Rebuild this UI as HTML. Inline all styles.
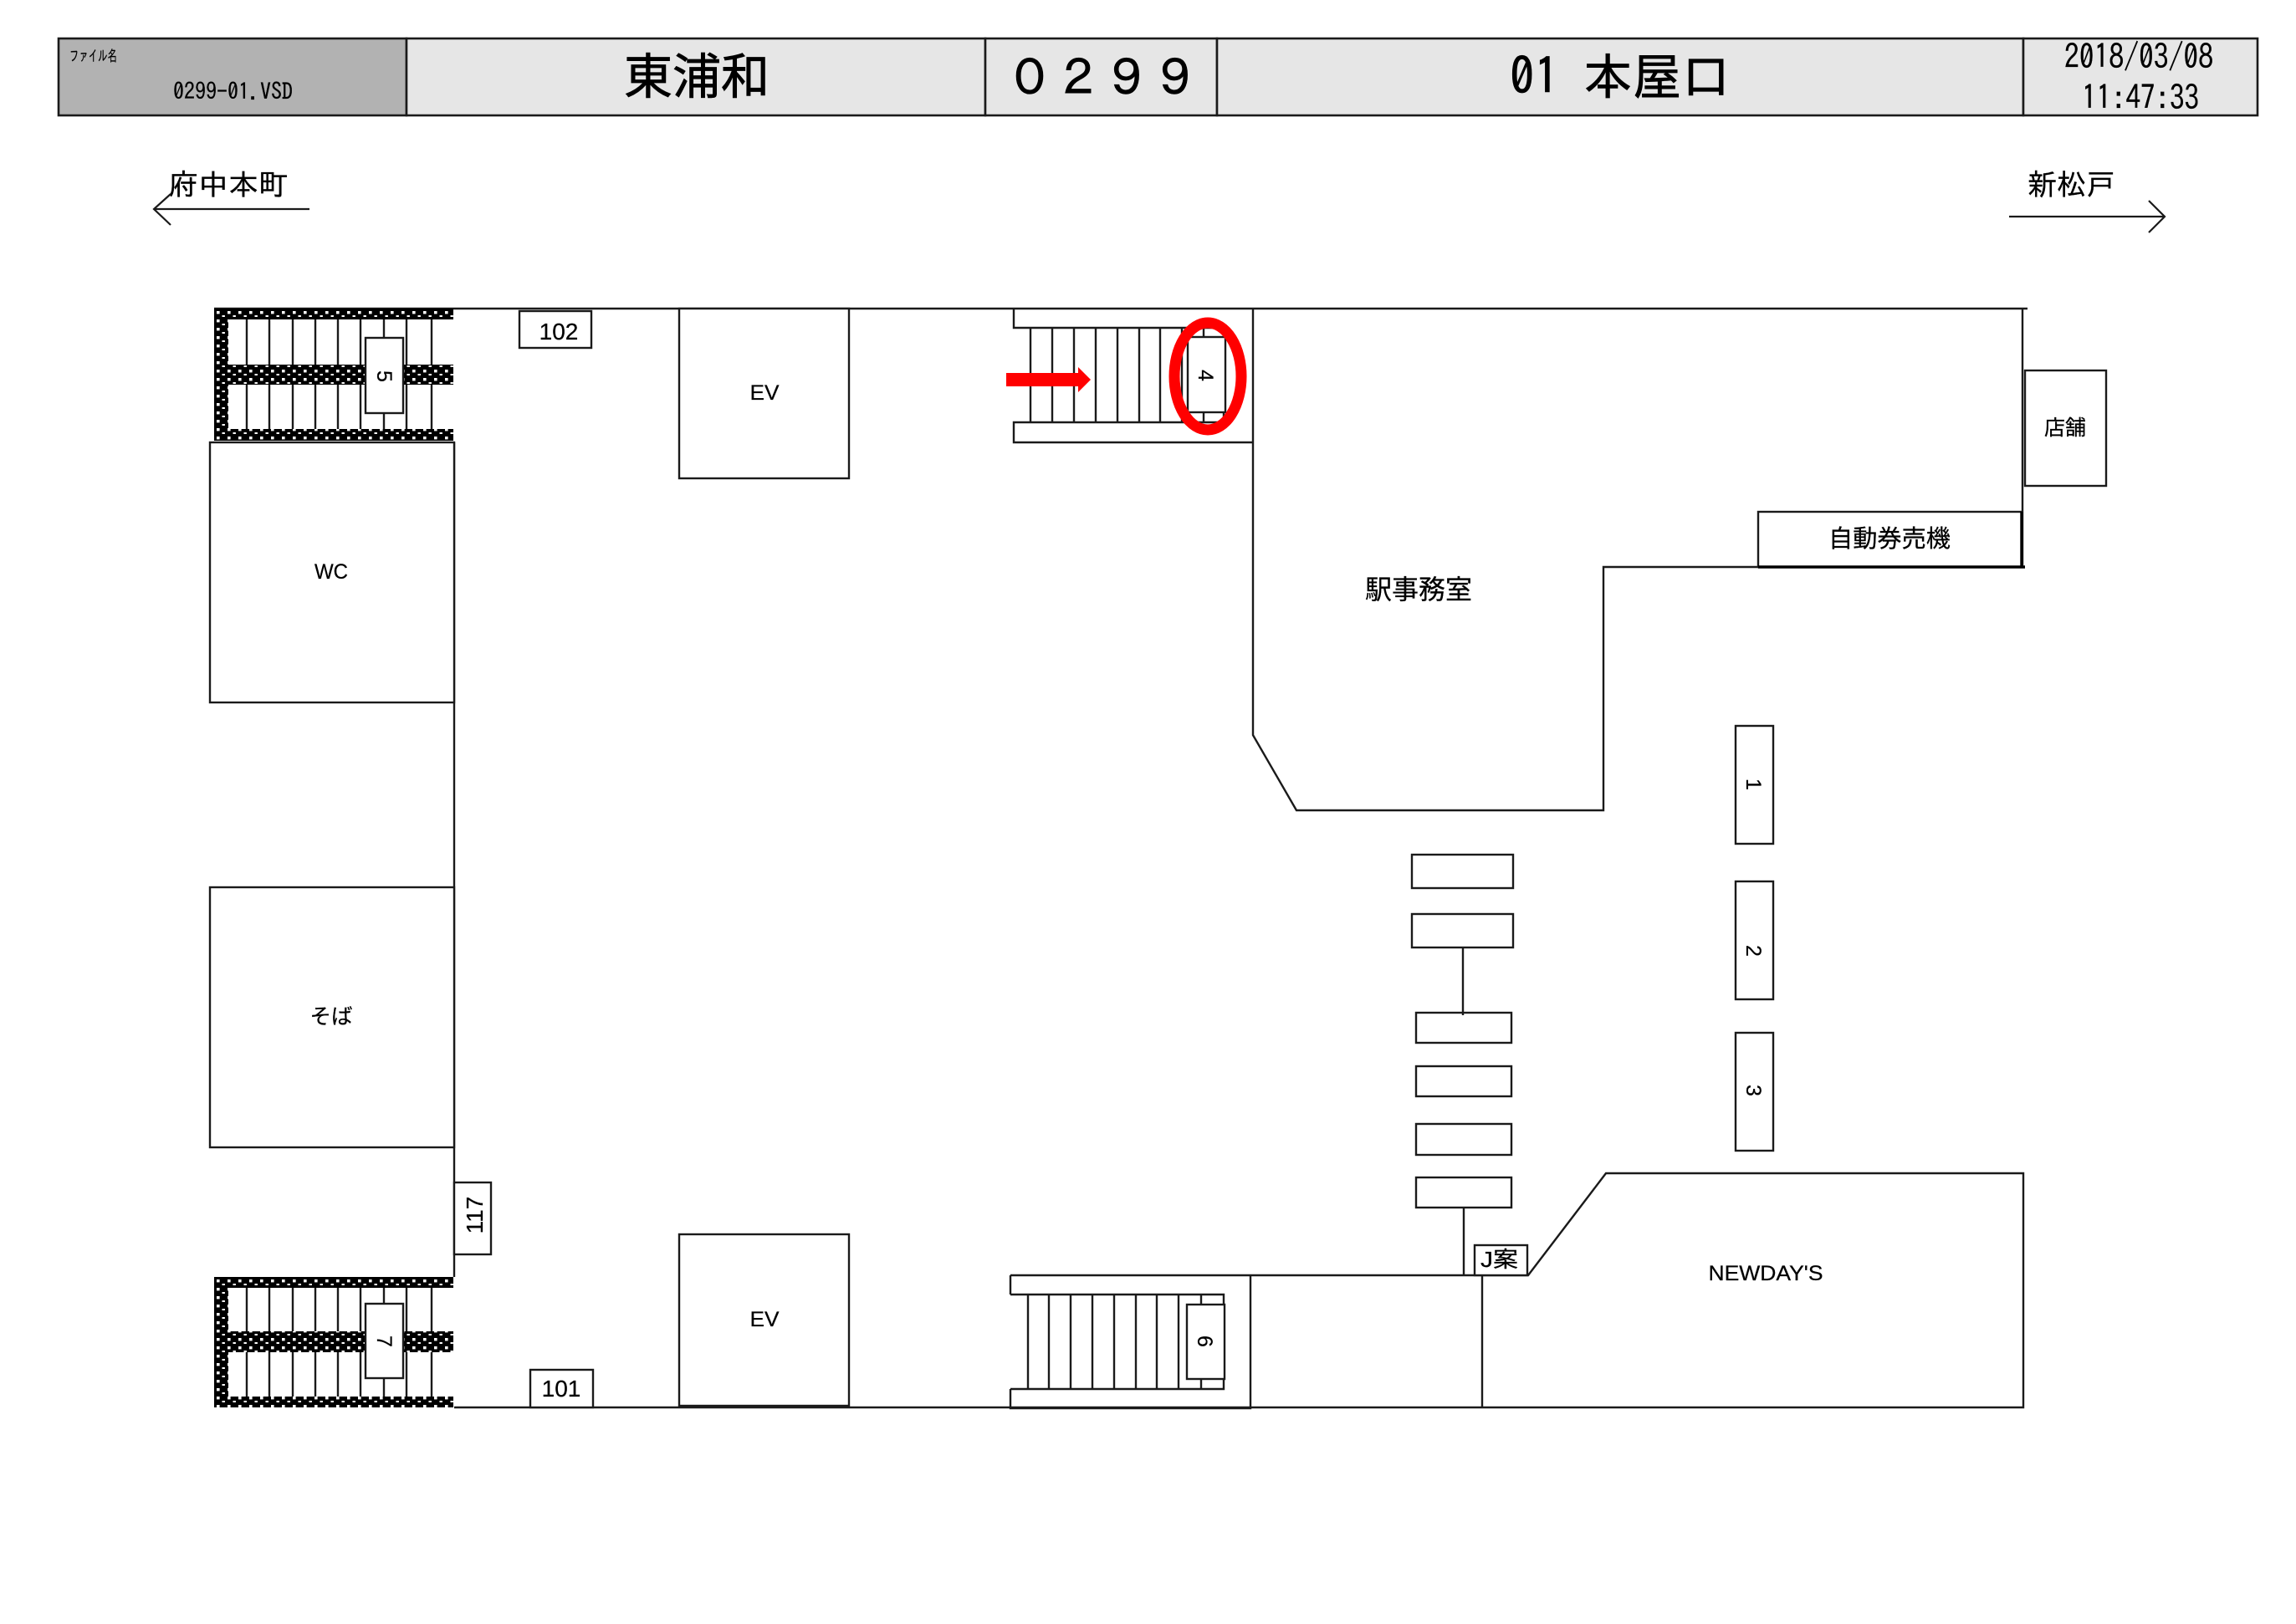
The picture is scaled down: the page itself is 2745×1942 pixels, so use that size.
<!DOCTYPE html>
<html><head><meta charset="utf-8"><style>
html,body{margin:0;padding:0;background:#fff}
svg{display:block}
text{font-family:"Liberation Sans","IPAGothic","Noto Sans CJK JP",sans-serif;fill:#000;stroke:#000;stroke-width:.25}
.g{font-family:"IPAGothic","Noto Sans CJK JP",sans-serif}
.h{stroke-width:.8}
</style></head><body>
<svg width="2745" height="1942" viewBox="0 0 2745 1942" xmlns="http://www.w3.org/2000/svg">
<defs>
<pattern id="d" width="13" height="10" patternUnits="userSpaceOnUse" x="256" y="369">
<rect width="13" height="10" fill="#000"/>
<rect x="3" y="3" width="3.6" height="3.4" fill="#fff"/>
<rect x="9.5" y="8" width="3.4" height="2.8" fill="#fff"/>
</pattern>
<pattern id="d2" width="13" height="10" patternUnits="userSpaceOnUse" x="256" y="1527">
<rect width="13" height="10" fill="#000"/>
<rect x="3" y="3" width="3.6" height="3.4" fill="#fff"/>
<rect x="9.5" y="8" width="3.4" height="2.8" fill="#fff"/>
</pattern>
</defs>
<rect width="2745" height="1942" fill="#fff"/>

<!-- header -->
<g stroke="#1a1a1a" stroke-width="2.6">
<rect x="70" y="46" width="416" height="92" fill="#b2b2b2"/>
<rect x="486" y="46" width="692" height="92" fill="#e6e6e6"/>
<rect x="1178" y="46" width="277" height="92" fill="#e6e6e6"/>
<rect x="1455" y="46" width="964" height="92" fill="#e6e6e6"/>
<rect x="2419" y="46" width="280" height="92" fill="#e6e6e6"/>
</g>
<text class="g" x="83" y="73" font-size="18" textLength="57" lengthAdjust="spacingAndGlyphs">ファイル名</text>
<text class="g" x="207" y="119" font-size="27" textLength="143" lengthAdjust="spacingAndGlyphs">0299-01.VSD</text>
<text class="h" x="746" y="112" font-size="58" textLength="174" lengthAdjust="spacingAndGlyphs" style="font-family:'Noto Sans CJK JP',sans-serif">東浦和</text>
<text class="h" x="1202" y="114" font-size="58" textLength="232" lengthAdjust="spacing" style="font-family:'IPAGothic','Noto Sans CJK JP',sans-serif">０２９９</text>
<text class="g h" x="1805" y="113" font-size="60" textLength="264" lengthAdjust="spacingAndGlyphs">01 本屋口</text>
<text class="g" x="2468" y="82" font-size="40" textLength="178" lengthAdjust="spacingAndGlyphs">2018/03/08</text>
<text class="g" x="2489" y="131" font-size="40" textLength="140" lengthAdjust="spacingAndGlyphs">11:47:33</text>

<!-- direction labels -->
<text class="g" x="201" y="233" font-size="35" textLength="144" lengthAdjust="spacingAndGlyphs">府中本町</text>
<g fill="none" stroke="#1a1a1a" stroke-width="2.2">
<path d="M370 250H184M204 232L184 250L204 269"/>
<path d="M2402 259H2588M2569 240L2588 259L2569 278"/>
</g>
<text class="g" x="2424" y="233" font-size="35" textLength="105" lengthAdjust="spacingAndGlyphs">新松戸</text>

<!-- walls and outlines -->
<g fill="none" stroke="#1a1a1a" stroke-width="2.4">
<path d="M256 369H2424"/>
<path d="M543 529V1527"/>
<path d="M543 1683H2419V1403H1920L1827 1525H1208"/>
<path d="M1498 369V879L1550 969H1917V678H2421"/>
<path d="M2418 369V678"/>
<path d="M1772 1525V1683"/>
<path d="M1495 1525V1684H1208V1661M1208 1525V1548"/>
</g>
<g fill="#fff" stroke="#1a1a1a" stroke-width="2.4">
<rect x="251" y="529" width="292" height="311"/>
<rect x="251" y="1061" width="292" height="311"/>
<rect x="812" y="369" width="203" height="203"/>
<rect x="812" y="1476" width="203" height="205"/>
<rect x="621" y="372" width="86" height="44"/>
<rect x="634" y="1638" width="75" height="45"/>
<rect x="543" y="1414" width="44" height="86"/>
<rect x="2102" y="612" width="315" height="66"/>
<rect x="2421" y="443" width="97" height="138"/>
<rect x="2075" y="868" width="45" height="141"/>
<rect x="2075" y="1054" width="45" height="141"/>
<rect x="2075" y="1235" width="45" height="141"/>
<rect x="1688" y="1022" width="121" height="40"/>
<rect x="1688" y="1093" width="121" height="40"/>
<rect x="1693" y="1211" width="114" height="36"/>
<rect x="1693" y="1275" width="114" height="36"/>
<rect x="1693" y="1344" width="114" height="37"/>
<rect x="1693" y="1408" width="114" height="36"/>
<rect x="1763" y="1489" width="63" height="36"/>
</g>
<path d="M1749 1133V1214M1750 1444V1525M2102 678H2421" stroke="#1a1a1a" stroke-width="2.4"/>
<path d="M2102 678H2421M2417 612V678" stroke="#000" stroke-width="3.4"/>

<!-- top-left stair -->
<g stroke="#1a1a1a" stroke-width="2.4"><path d="M295 382V513M322 382V513M350 382V513M377 382V513M404 382V513M431 382V513M459 382V513M486 382V513M516 382V513"/></g>
<g fill="url(#d)">
<rect x="256" y="369" width="286" height="13"/><rect x="256" y="436" width="286" height="24"/><rect x="256" y="513" width="286" height="14"/><rect x="256" y="369" width="17" height="158"/>
</g>
<rect x="437" y="404" width="45" height="90" fill="#fff" stroke="#1a1a1a" stroke-width="2.4"/>

<!-- bottom-left stair -->
<g stroke="#1a1a1a" stroke-width="2.4"><path d="M295 1540V1670M322 1540V1670M350 1540V1670M377 1540V1670M404 1540V1670M431 1540V1670M459 1540V1670M486 1540V1670M516 1540V1670"/></g>
<g fill="url(#d2)">
<rect x="256" y="1527" width="286" height="13"/><rect x="256" y="1592" width="286" height="25"/><rect x="256" y="1670" width="286" height="13"/><rect x="256" y="1527" width="17" height="156"/>
</g>
<rect x="437" y="1559" width="45" height="89" fill="#fff" stroke="#1a1a1a" stroke-width="2.4"/>

<!-- stair 4 -->
<g fill="none" stroke="#1a1a1a" stroke-width="2.4">
<path d="M1212 369V392H1463V505H1212V529H1498"/>
<path d="M1232 392V505M1258 392V505M1284 392V505M1310 392V505M1336 392V505M1362 392V505M1387 392V505M1413 392V505M1439 392V505"/>
</g>
<rect x="1420" y="403" width="45" height="90" fill="#fff" stroke="#1a1a1a" stroke-width="2.4"/>

<!-- stair 6 -->
<g fill="none" stroke="#1a1a1a" stroke-width="2.4">
<path d="M1208 1548H1463V1661H1208"/>
<path d="M1229 1548V1661M1254 1548V1661M1280 1548V1661M1306 1548V1661M1332 1548V1661M1358 1548V1661M1383 1548V1661M1409 1548V1661M1436 1548V1661"/>
</g>
<rect x="1419" y="1560" width="45" height="89" fill="#fff" stroke="#1a1a1a" stroke-width="2.4"/>

<!-- labels -->
<g font-size="25" text-anchor="middle">
<text x="396" y="692" textLength="40" lengthAdjust="spacingAndGlyphs">WC</text>
<text x="396" y="1224" textLength="51" lengthAdjust="spacingAndGlyphs" style="font-family:'Noto Sans CJK JP',sans-serif">そば</text>
<text x="914" y="478" textLength="35" lengthAdjust="spacingAndGlyphs">EV</text>
<text x="914" y="1586" textLength="35" lengthAdjust="spacingAndGlyphs">EV</text>
<text x="2111" y="1531" textLength="137" lengthAdjust="spacingAndGlyphs">NEWDAY'S</text>
</g>
<g font-size="28" text-anchor="middle">
<text x="668" y="406">102</text>
<text x="671" y="1670">101</text>
<text transform="translate(567 1453) rotate(-90)" y="10">117</text>
</g>
<g font-size="25" text-anchor="middle">
<text transform="translate(460 450) rotate(90)" y="9">5</text>
<text transform="translate(460 1604) rotate(90)" y="9">7</text>
<text transform="translate(1442 449) rotate(90)" y="9">4</text>
<text transform="translate(1441 1604) rotate(90)" y="9">6</text>
<text transform="translate(2097 938) rotate(90)" y="9">1</text>
<text transform="translate(2097 1137) rotate(90)" y="9">2</text>
<text transform="translate(2097 1304) rotate(90)" y="9">3</text>
</g>
<text x="1632" y="716" font-size="32" textLength="128" lengthAdjust="spacingAndGlyphs" style="font-family:'Noto Sans CJK JP',sans-serif">駅事務室</text>
<text x="2186" y="654" font-size="29" textLength="146" lengthAdjust="spacingAndGlyphs" style="font-family:'Noto Sans CJK JP',sans-serif">自動券売機</text>
<text x="2444" y="520" font-size="25" textLength="50" lengthAdjust="spacingAndGlyphs" style="font-family:'Noto Sans CJK JP',sans-serif">店舗</text>
<text x="1770" y="1515" font-size="26" textLength="45" lengthAdjust="spacingAndGlyphs" style="font-family:'Liberation Sans','Noto Sans CJK JP',sans-serif">J案</text>

<!-- red highlight -->
<ellipse cx="1444" cy="450" rx="40" ry="64" fill="none" stroke="#f00" stroke-width="13"/>
<path d="M1203 446H1289V439L1304 454L1289 469V462H1203Z" fill="#f00"/>
</svg>
</body></html>
